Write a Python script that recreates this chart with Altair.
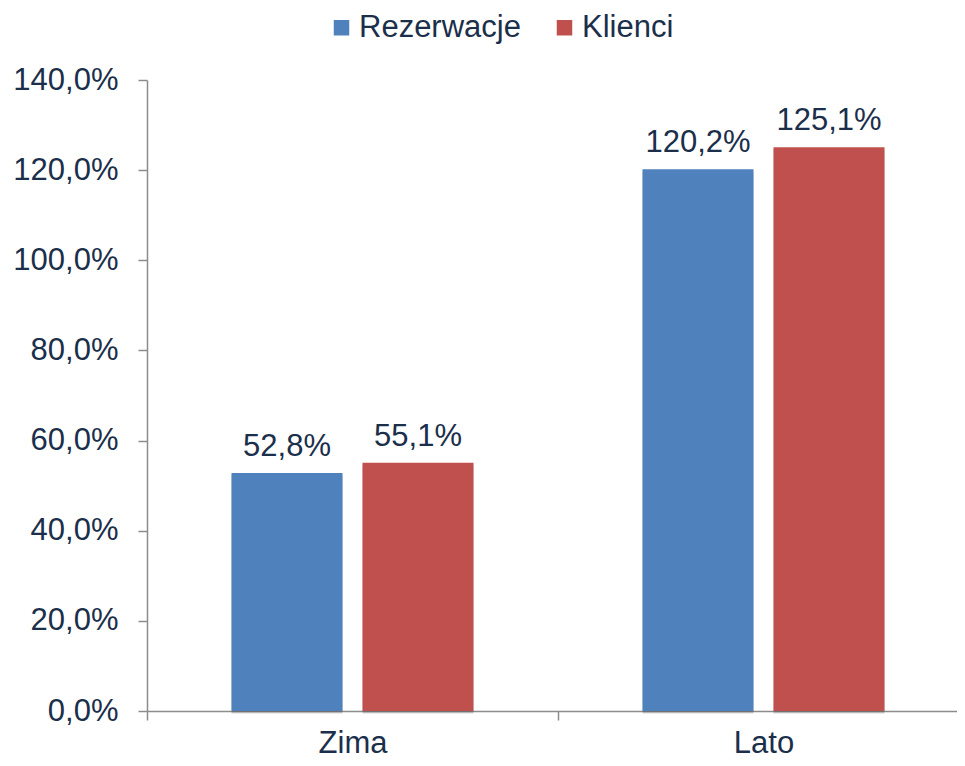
import altair as alt
import pandas as pd

categories = ["Zima", "Lato"]
series = ["Rezerwacje", "Klienci"]
rezerwacje = [52.8, 120.2]
klienci = [55.1, 125.1]
colors = ["#4F81BD", "#C0504D"]
y_ticks = [0, 20, 40, 60, 80, 100, 120, 140]

rows = []
for i, c in enumerate(categories):
    rows.append({"season": c, "series": series[0], "value": rezerwacje[i]})
    rows.append({"season": c, "series": series[1], "value": klienci[i]})
df = pd.DataFrame(rows)

TEXT = "#1B2F4B"
GRAY = "#8C8C8C"
FONT = "Liberation Sans"
FS = 31

x_enc = alt.X(
    "season:N",
    sort=categories,
    title=None,
    scale=alt.Scale(range=[0, 822], paddingInner=0, paddingOuter=0),
    axis=alt.Axis(
        tickBand="extent",
        labelAngle=0,
        labelFontSize=FS,
        labelColor=TEXT,
        labelFont=FONT,
        labelPadding=8,
        domainColor=GRAY,
        domainWidth=1.5,
        tickColor=GRAY,
        tickWidth=1.5,
        tickSize=9,
    ),
)
xoff = alt.XOffset(
    "series:N", sort=series,
    scale=alt.Scale(paddingInner=0.1527, paddingOuter=0.645),
)
y_enc = alt.Y(
    "value:Q",
    title=None,
    scale=alt.Scale(domain=[0, 140], nice=False),
    axis=alt.Axis(
        values=y_ticks,
        labelExpr="replace(format(datum.value, '.1f'), '.', ',') + '%'",
        grid=False,
        labelFontSize=FS,
        labelColor=TEXT,
        labelFont=FONT,
        labelPadding=20,
        domainColor=GRAY,
        domainWidth=1.5,
        tickColor=GRAY,
        tickWidth=1.5,
        tickSize=9,
    ),
)

base = alt.Chart(df)

shadow = base.mark_bar(color="#000000", opacity=0.12, xOffset=4, yOffset=2).encode(
    x=x_enc, xOffset=xoff, y=y_enc
)
shadow2 = base.mark_bar(color="#000000", opacity=0.08, xOffset=6, yOffset=3).encode(
    x=x_enc, xOffset=xoff, y=y_enc
)

bars = base.mark_bar().encode(
    x=x_enc,
    xOffset=xoff,
    y=y_enc,
    color=alt.Color(
        "series:N",
        sort=series,
        scale=alt.Scale(domain=series, range=colors),
        legend=alt.Legend(
            title=None,
            orient="none",
            direction="horizontal",
            legendX=179,
            legendY=-68,
            symbolType="square",
            symbolSize=240,
            symbolStrokeWidth=0,
            labelFontSize=FS,
            labelColor=TEXT,
            labelFont=FONT,
            labelOffset=2,
            labelLimit=0,
            columnPadding=28,
        ),
    ),
)

labels = base.mark_text(
    fontSize=FS, color=TEXT, font=FONT, baseline="alphabetic", dy=-17
).transform_calculate(
    label="replace(format(datum.value, '.1f'), '.', ',') + '%'"
).encode(
    x=x_enc, xOffset=xoff, y=y_enc, text="label:N"
)

chart = alt.layer(shadow2, shadow, bars, labels).properties(
    width=810,
    height=631,
    autosize=alt.AutoSizeParams(type="none"),
    padding={"left": 139, "top": 72, "right": 0, "bottom": 47},
).configure_view(stroke=None)

chart.save("out.html", embed_options={"renderer": "svg", "actions": False})
